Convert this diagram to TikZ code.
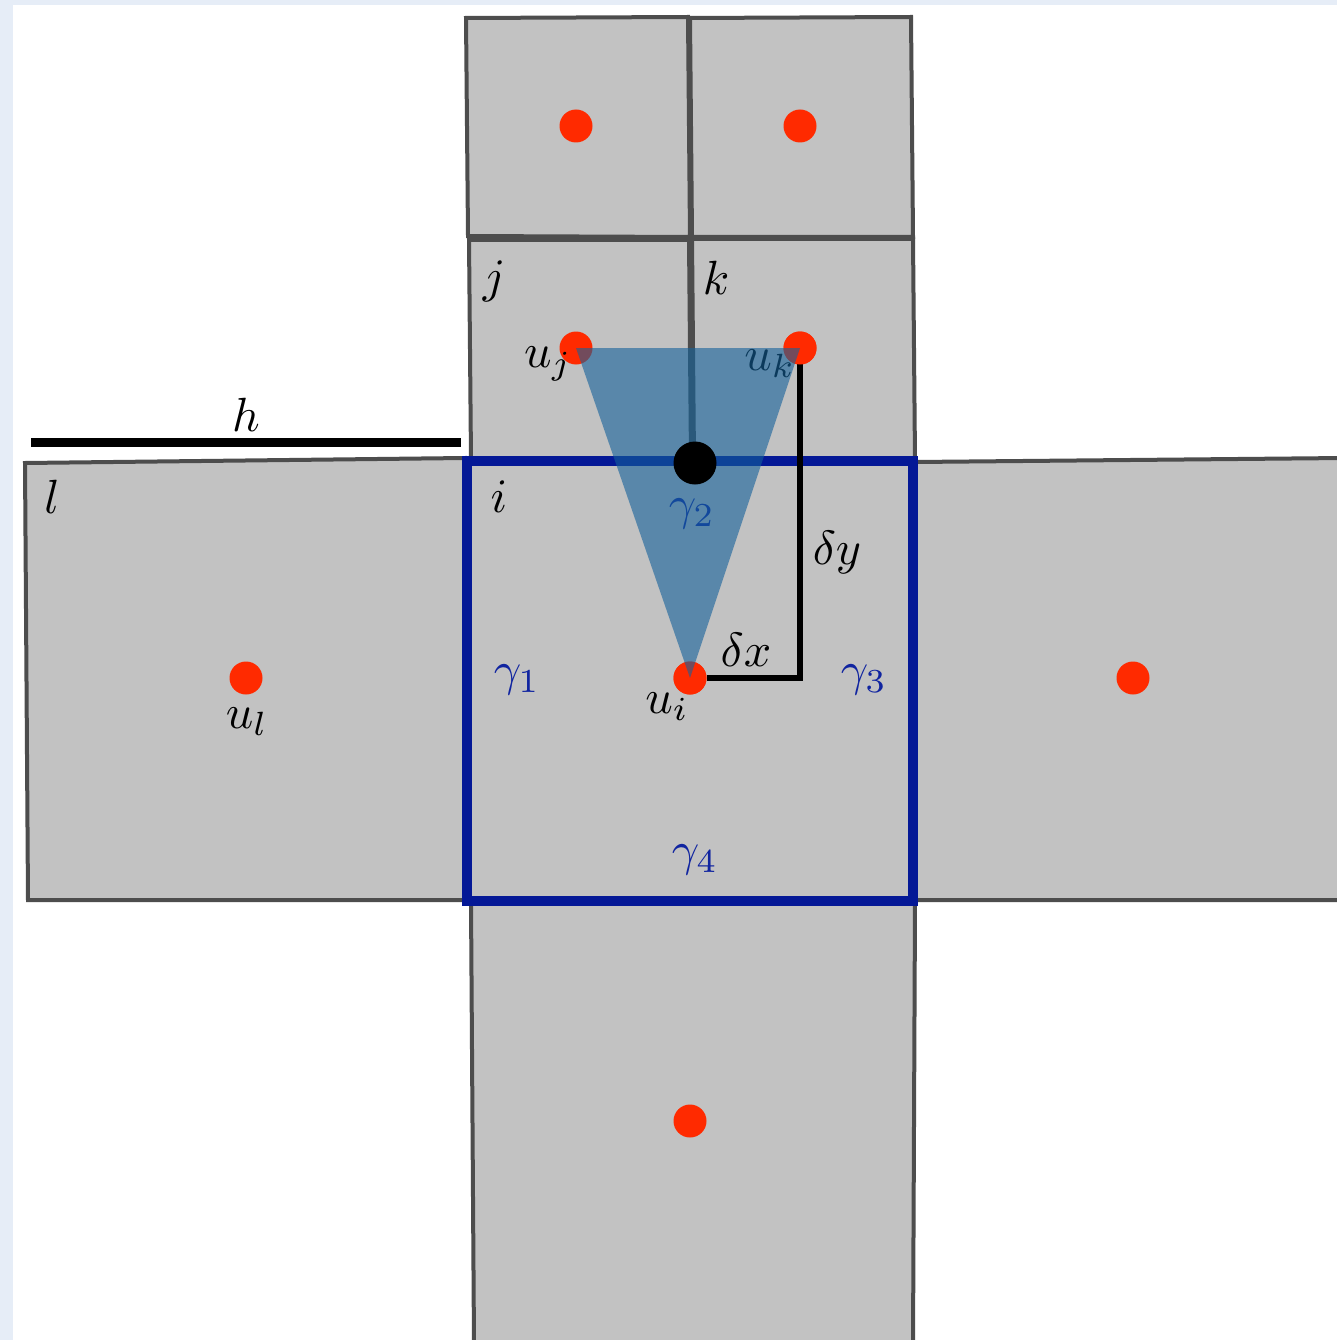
\documentclass[tikz,border=0pt]{standalone}
\definecolor{bgblue}{RGB}{230,237,247}
\definecolor{cellgray}{RGB}{194,194,194}
\definecolor{cellline}{RGB}{77,77,77}
\definecolor{bordblue}{RGB}{4,24,150}
\definecolor{gamblue}{RGB}{16,36,160}
\definecolor{dotred}{RGB}{255,42,0}
\definecolor{trifill}{RGB}{20,97,154}
\tikzset{
  cell/.style={fill=cellgray,draw=cellline,line width=4pt,line join=miter},
  reddot/.style={circle,fill=dotred,inner sep=0pt,minimum size=33pt},
  blackdot/.style={circle,fill=black,inner sep=0pt,minimum size=43pt},
  lab/.style={inner sep=0pt,text=black,scale=4.8},
  glab/.style={inner sep=0pt,text=gamblue,scale=4.8},
  blkline/.style={draw=black,line width=6.5pt,line join=miter},
}
\begin{document}
\begin{tikzpicture}[x=1pt,y=-1pt]
\useasboundingbox (0,0) rectangle (1337,1340);
\fill[bgblue] (0,0) rectangle (1337,1340);
\fill[white] (13,5) rectangle (1337,1340);
% cells
\draw[cell] (466,18) -- (688,17) -- (690,237) -- (468,236) -- cycle;
\draw[cell] (690,18) -- (911,17) -- (913,237) -- (692,237) -- cycle;
\draw[cell] (469,240) -- (689,240) -- (691,460) -- (471,460) -- cycle;
\draw[cell] (692,239) -- (913,239) -- (915,460) -- (694,460) -- cycle;
\draw[cell] (25,463) -- (465,458) -- (467,900) -- (28,900) -- cycle;
\draw[cell] (915,462) -- (1345,458) -- (1345,900) -- (915,900) -- cycle;
\draw[cell] (471,903) -- (915,903) -- (913,1345) -- (474,1345) -- cycle;
\draw[cell] (467,461) rectangle (913,901);
% centre cell border
\draw[draw=bordblue,line width=9.5pt] (467,461) rectangle (913,901);
% h scale
\coordinate (h0) at (31,442);
\coordinate (h1) at (461,442);
\draw[draw=black,line width=9pt] (h0) -- (h1);
% points
\node[reddot] (a1) at (576,126) {};
\node[reddot] (a2) at (800,126) {};
\node[reddot] (uj) at (576,348) {};
\node[reddot] (uk) at (800,348) {};
\node[reddot] (ul) at (246,678) {};
\node[reddot] (ui) at (690,678) {};
\node[reddot] (ur) at (1133,678) {};
\node[reddot] (ub) at (690,1121) {};
% delta path
\draw[blkline] (uk.center) |- (ui.east);
\node[reddot] at (ui) {};
\node[reddot] at (uk) {};
% labels
\node[lab] (tj) at (494,281) {$j$};
\node[lab] (tk) at (716,278) {$k$};
\node[lab] (tl) at (52,497) {$l$};
\node[lab] (ti) at (499,497) {$i$};
\node[lab] (th) at (246,415) {$h$};
\node[lab] (tuj) at (548,364) {$u_j$};
\node[lab] (tuk) at (770,364) {$u_k$};
\node[lab] (tui) at (667,707) {$u_i$};
\node[lab] (tul) at (247,722) {$u_l$};
\node[lab] (tdy) at (837,552) {$\delta y$};
\node[lab] (tdx) at (746,650) {$\delta x$};
\node[glab] (g1) at (517,680) {$\gamma_1$};
\node[glab] (g2) at (692,514) {$\gamma_2$};
\node[glab] (g3) at (864,680) {$\gamma_3$};
\node[glab] (g4) at (695,860) {$\gamma_4$};
% triangle
\fill[trifill,fill opacity=0.6] (uj.center) -- (uk.center) -- (ui.center) -- cycle;
% black dot
\node[blackdot] (m) at (695,463) {};
\end{tikzpicture}
\end{document}
